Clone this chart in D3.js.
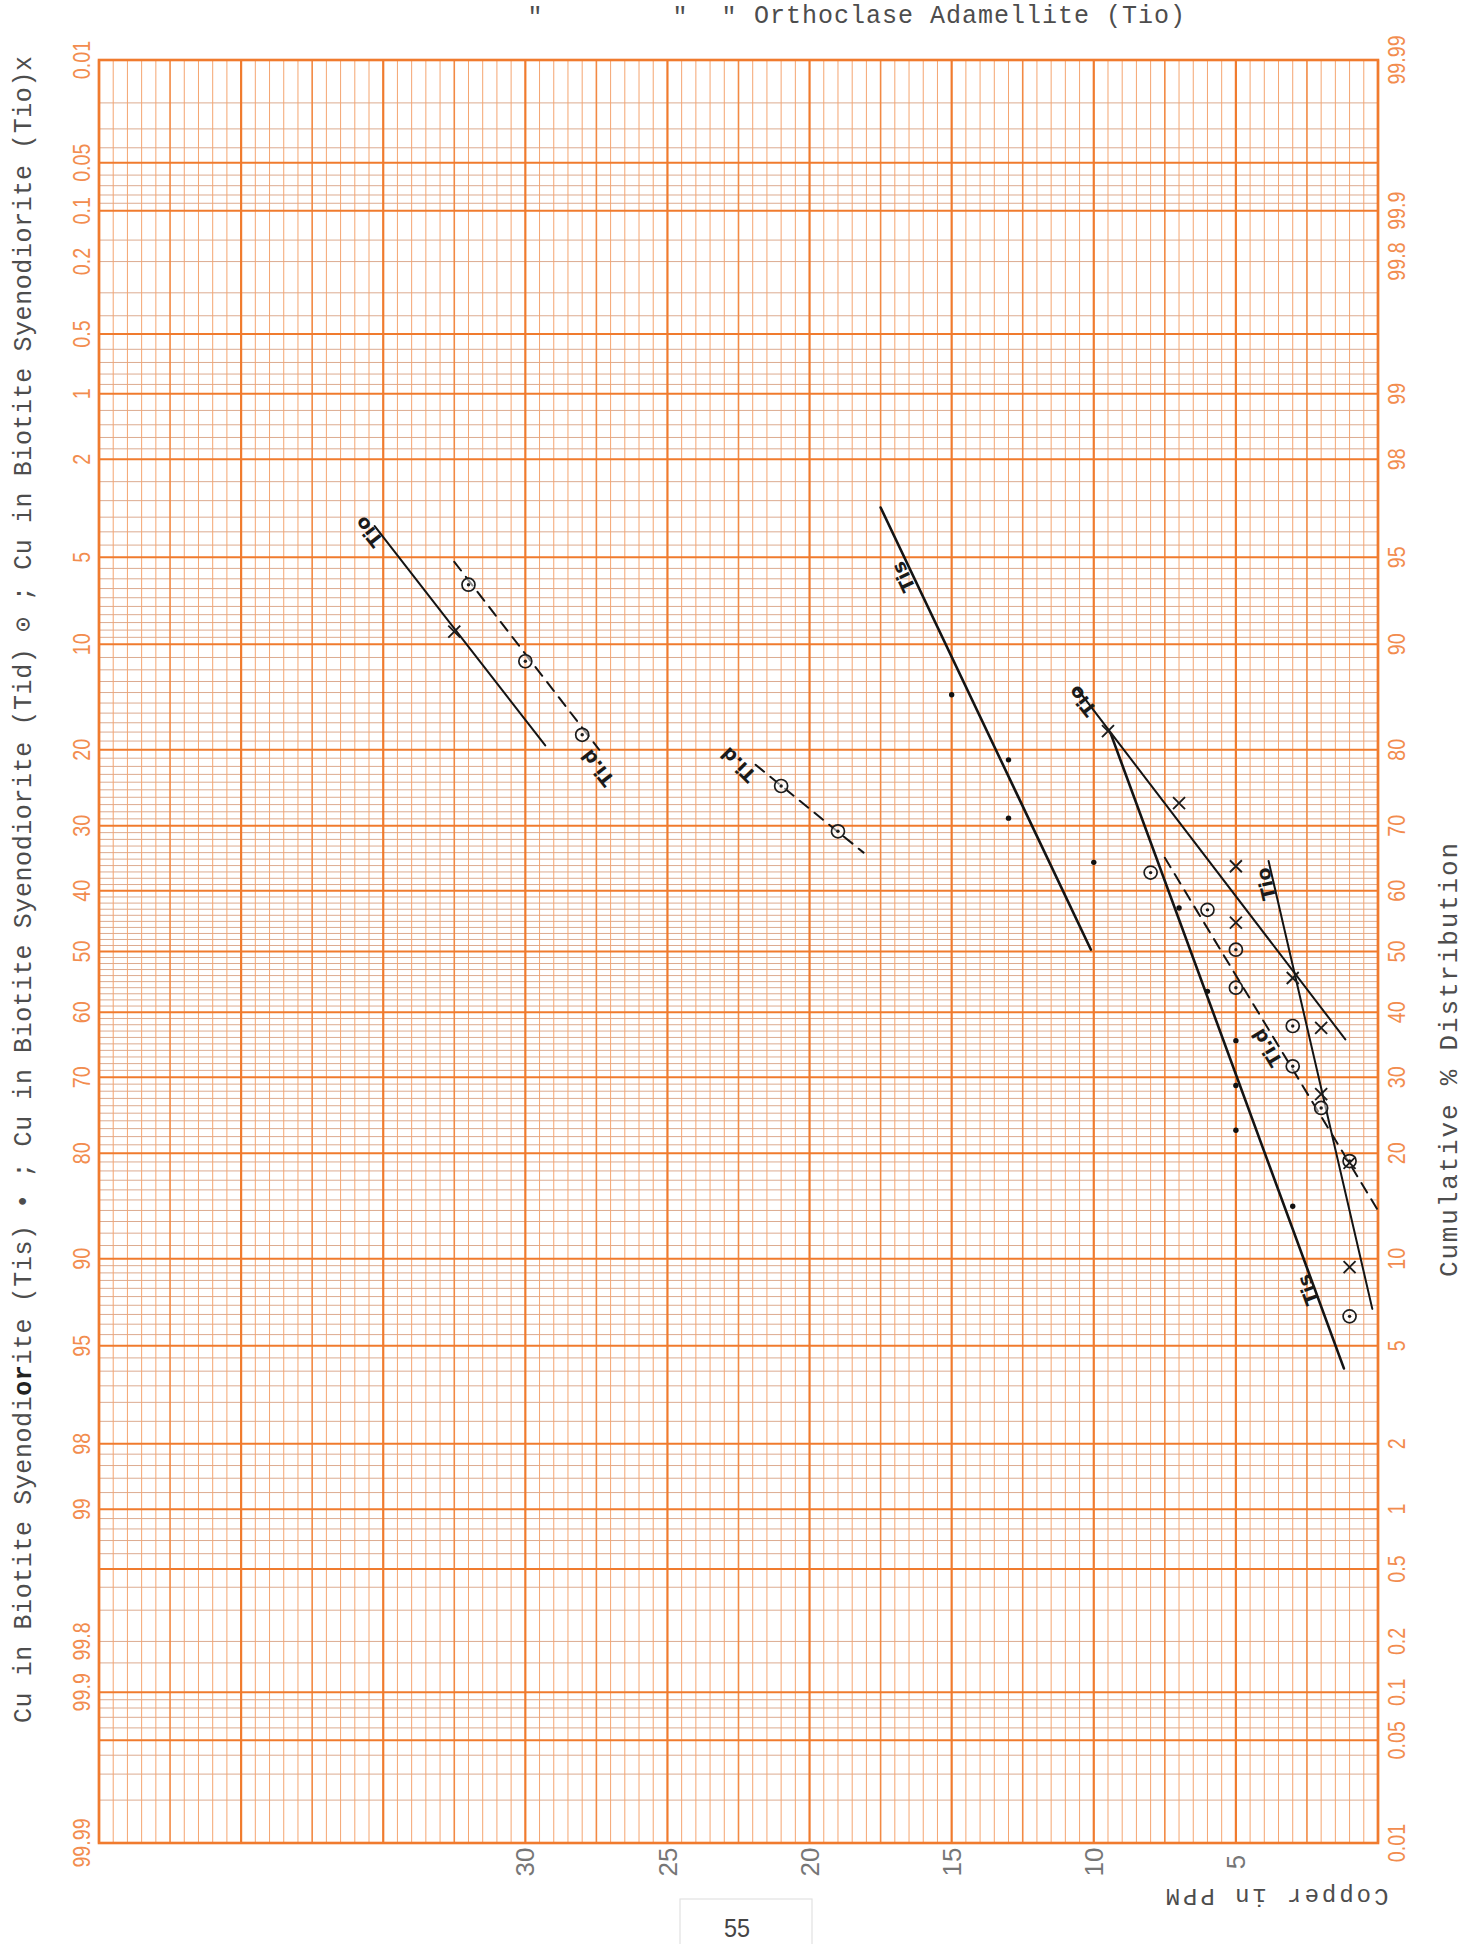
<!DOCTYPE html>
<html>
<head>
<meta charset="utf-8">
<script src="https://cdn.jsdelivr.net/npm/d3@7"></script>
<style>
  body { margin: 0; background: #fff; }
  svg { display: block; }
</style>
</head>
<body>
<svg id="chart" width="1470" height="1944"></svg>
<script>
// ---------------- data ----------------
// probability labels (same set printed on both sides of the paper)
const percentLabels = [0.01, 0.05, 0.1, 0.2, 0.5, 1, 2, 5, 10, 20, 30, 40, 50, 60, 70, 80, 90, 95, 98, 99, 99.8, 99.9, 99.99];
// copper axis labels (ppm)
const ppmLabels = [5, 10, 15, 20, 25, 30];

// Tis — Biotite Syenodiorite (dots)
const tisPpm = [15, 13, 13, 10, 7, 6, 5, 5, 5, 3];
const tisCum = [85.8, 78.8, 71.1, 64.5, 57.2, 43.4, 35.5, 28.8, 22.8, 14.4];

// Tid — Biotite Syenodiorite (circled dots)
const tidPpm = [32, 30, 28, 21, 19, 8, 6, 5, 5, 3, 3, 2, 1, 1];
const tidCum = [93.7, 88.7, 81.7, 75.5, 69.2, 62.9, 56.9, 50.3, 44.0, 37.8, 31.6, 25.7, 19.1, 6.4];

// Tio — Orthoclase Adamellite (crosses)
const tioPpm = [32.5, 9.5, 7, 5, 5, 3, 2, 2, 1, 1];
const tioCum = [90.9, 82.1, 73.2, 63.9, 54.8, 45.6, 37.5, 27.6, 18.9, 9.4];

// hand-drawn fit lines: group, ppm/cum at start, ppm/cum at end
const fitGroups = ["Tio", "Tid", "Tid", "Tis", "Tio", "Tis", "Tio", "Tid"];
const fitPpm0 = [35.3, 32.5, 21.9, 17.5, 10.6, 9.4, 3.85, 7.5];
const fitCum0 = [96.2, 94.8, 78.2, 96.8, 86.4, 81.8, 64.7, 65.2];
const fitPpm1 = [29.3, 27.4, 18.1, 10.1, 1.15, 1.2, 0.2, 0.0];
const fitCum1 = [80.5, 80.0, 66.0, 50.3, 35.7, 4.1, 6.8, 14.0];

// handwritten line labels
const noteText = ["Tio", "Ti.d", "Ti.d", "Tis", "Tio", "Tio", "Ti.d", "Tis"];
const notePpm = [35.5, 27.45, 22.5, 16.7, 10.4, 3.94, 3.9, 2.46];
const noteCum = [96.0, 77.8, 78.2, 94.1, 85.2, 61.1, 34.4, 7.9];
const noteAngle = [-128, -128, -135, -115, -128, -103, -121, -110];

// ---------------- helpers ----------------
// inverse of the standard normal CDF (Acklam's rational approximation)
function probit(p) {
  const a = [-3.969683028665376e+01, 2.209460984245205e+02, -2.759285104469687e+02, 1.383577518672690e+02, -3.066479806614716e+01, 2.506628277459239e+00];
  const b = [-5.447609879822406e+01, 1.615858368580409e+02, -1.556989798598866e+02, 6.680131188771972e+01, -1.328068155288572e+01];
  const c = [-7.784894002430293e-03, -3.223964580411365e-01, -2.400758277161838e+00, -2.549732539343734e+00, 4.374664141464968e+00, 2.938163982698783e+00];
  const d = [7.784695709041462e-03, 3.224671290700398e-01, 2.445134137142996e+00, 3.754408661907416e+00];
  const pl = 0.02425, ph = 1 - pl;
  let q, r;
  if (p < pl) {
    q = Math.sqrt(-2 * Math.log(p));
    return (((((c[0]*q+c[1])*q+c[2])*q+c[3])*q+c[4])*q+c[5]) / ((((d[0]*q+d[1])*q+d[2])*q+d[3])*q+1);
  }
  if (p <= ph) {
    q = p - 0.5; r = q * q;
    return (((((a[0]*r+a[1])*r+a[2])*r+a[3])*r+a[4])*r+a[5])*q / (((((b[0]*r+b[1])*r+b[2])*r+b[3])*r+b[4])*r+1);
  }
  q = Math.sqrt(-2 * Math.log(1 - p));
  return -(((((c[0]*q+c[1])*q+c[2])*q+c[3])*q+c[4])*q+c[5]) / ((((d[0]*q+d[1])*q+d[2])*q+d[3])*q+1);
}

// ---------------- scales ----------------
const x = d3.scaleLinear().domain([45, 0]).range([99, 1378]);
const z = d3.scaleLinear().domain([probit(0.9999), probit(0.0001)]).range([60, 1843]);
const y = cum => z(probit(cum / 100));   // cumulative % (right-hand scale)

const svg = d3.select("#chart");
const ORANGE = "#f07b2e";

// ---------------- probability paper grid ----------------
const heavyLow = [0.01, 0.05, 0.1, 0.5, 1, 2, 5, 10, 20, 30, 40, 50];
const minorLow = [0.02, 0.03, 0.04, 0.06, 0.07, 0.08, 0.09, 0.15, 0.2, 0.3, 0.4, 0.6, 0.7, 0.8, 0.9,
  1.2, 1.4, 1.6, 1.8, 2.5, 3, 3.5, 4, 4.5, 5.5, 6, 6.5, 7, 7.5, 8, 8.5, 9, 9.5]
  .concat(d3.range(11, 50).filter(v => v % 10 !== 0));
const mirror = arr => Array.from(new Set(arr.concat(arr.map(v => +(100 - v).toFixed(4)))));
const heavyP = mirror(heavyLow);
const minorP = mirror(minorLow);

const grid = svg.append("g").attr("class", "grid");
const x0 = x(45), x1 = x(0), yTop = y(99.99), yBot = y(0.01);

grid.selectAll("line.hmin").data(minorP).join("line")
  .attr("class", "hmin")
  .attr("x1", x0).attr("x2", x1)
  .attr("y1", d => y(d)).attr("y2", d => y(d))
  .attr("stroke", "#dcab90").attr("stroke-width", 1);

const ppmGrid = d3.range(0, 45.01, 0.5);
grid.selectAll("line.v").data(ppmGrid).join("line")
  .attr("class", "v")
  .attr("x1", d => x(d)).attr("x2", d => x(d))
  .attr("y1", yTop).attr("y2", yBot)
  .attr("stroke", d => d % 5 === 0 ? ORANGE : (d % 2.5 === 0 ? "#f28a44" : "#f4a571"))
  .attr("stroke-width", d => d % 5 === 0 ? 2.2 : (d % 2.5 === 0 ? 1.6 : 1));

grid.selectAll("line.hmaj").data(heavyP).join("line")
  .attr("class", "hmaj")
  .attr("x1", x0).attr("x2", x1)
  .attr("y1", d => y(d)).attr("y2", d => y(d))
  .attr("stroke", ORANGE).attr("stroke-width", 2);

grid.append("rect")
  .attr("x", x0).attr("y", yTop)
  .attr("width", x1 - x0).attr("height", yBot - yTop)
  .attr("fill", "none").attr("stroke", ORANGE).attr("stroke-width", 2.6);

// ---------------- printed scale labels ----------------
const labelFont = "'Liberation Sans', Arial, sans-serif";
// left side: percentage increasing downward
svg.append("g").selectAll("text").data(percentLabels).join("text")
  .attr("transform", d => `translate(82,${y(100 - d)}) rotate(-90) scale(0.82,1)`)
  .attr("dy", "0.35em")
  .attr("text-anchor", "middle")
  .attr("font-family", labelFont).attr("font-size", 24)
  .attr("fill", "#f28c4e")
  .text(d => d);
// right side: cumulative percentage
svg.append("g").selectAll("text").data(percentLabels).join("text")
  .attr("transform", d => `translate(1397,${y(d)}) rotate(-90) scale(0.82,1)`)
  .attr("dy", "0.35em")
  .attr("text-anchor", "middle")
  .attr("font-family", labelFont).attr("font-size", 24)
  .attr("fill", "#f28c4e")
  .text(d => d);
// copper axis
svg.append("g").selectAll("text").data(ppmLabels).join("text")
  .attr("transform", d => `translate(${x(d)},1862) rotate(-90)`)
  .attr("dy", "0.35em")
  .attr("text-anchor", "middle")
  .attr("font-family", labelFont).attr("font-size", 26)
  .attr("fill", "#767676")
  .text(d => d);

// ---------------- fitted lines ----------------
const fits = fitGroups.map((g, i) => ({ g, p0: fitPpm0[i], c0: fitCum0[i], p1: fitPpm1[i], c1: fitCum1[i] }));
svg.append("g").selectAll("line").data(fits).join("line")
  .attr("x1", d => x(d.p0)).attr("y1", d => y(d.c0))
  .attr("x2", d => x(d.p1)).attr("y2", d => y(d.c1))
  .attr("stroke", "#141414")
  .attr("stroke-width", d => d.g === "Tis" ? 2.6 : 2)
  .attr("stroke-dasharray", d => d.g === "Tid" ? "11,8" : null)
  .attr("stroke-linecap", "round");

// ---------------- points ----------------
const tis = tisPpm.map((p, i) => ({ p, c: tisCum[i] }));
const tid = tidPpm.map((p, i) => ({ p, c: tidCum[i] }));
const tio = tioPpm.map((p, i) => ({ p, c: tioCum[i] }));

svg.append("g").selectAll("circle").data(tis).join("circle")
  .attr("cx", d => x(d.p)).attr("cy", d => y(d.c))
  .attr("r", 2.7).attr("fill", "#111");

const tidG = svg.append("g").selectAll("g").data(tid).join("g")
  .attr("transform", d => `translate(${x(d.p)},${y(d.c)})`);
tidG.append("circle").attr("r", 6.5).attr("fill", "#fff").attr("fill-opacity", 0.5)
  .attr("stroke", "#1c1c1c").attr("stroke-width", 1.7);
tidG.append("circle").attr("r", 1.7).attr("fill", "#1c1c1c");

svg.append("g").selectAll("path").data(tio).join("path")
  .attr("transform", d => `translate(${x(d.p)},${y(d.c)})`)
  .attr("d", "M-6,-6L6,6M-6,6L6,-6")
  .attr("stroke", "#1c1c1c").attr("stroke-width", 1.9).attr("fill", "none");

// ---------------- handwritten labels ----------------
const notes = noteText.map((t, i) => ({ t, p: notePpm[i], c: noteCum[i], a: noteAngle[i] }));
svg.append("g").selectAll("text").data(notes).join("text")
  .attr("transform", d => `translate(${x(d.p)},${y(d.c)}) rotate(${d.a})`)
  .attr("dy", "0.35em")
  .attr("text-anchor", "middle")
  .attr("font-family", "'DejaVu Sans', sans-serif")
  .attr("font-size", 19).attr("font-weight", 600)
  .attr("fill", "#1a1a1a")
  .text(d => d.t);

// ---------------- typed titles ----------------
const mono = "'Liberation Mono', 'DejaVu Sans Mono', monospace";
const title = svg.append("text")
  .attr("transform", "translate(31,1723) rotate(-90)")
  .attr("font-family", mono).attr("font-size", 25)
  .attr("fill", "#4d4d4d")
  .attr("textLength", 1667).attr("lengthAdjust", "spacing");
title.append("tspan").text("Cu in Biotite Syenodi");
title.append("tspan").attr("font-weight", "bold").attr("fill", "#222").text("or");
title.append("tspan").text("ite (Tis) \u2022 ; Cu in Biotite Syenodiorite (Tid) \u2299 ; Cu in Biotite Syenodiorite (Tio)x");

const header = svg.append("g")
  .attr("font-family", mono).attr("font-size", 25).attr("fill", "#4d4d4d");
header.append("text").attr("x", 535).attr("y", 25).attr("text-anchor", "middle").text("\"");
header.append("text").attr("x", 680).attr("y", 25).attr("text-anchor", "middle").text("\"");
header.append("text").attr("x", 729).attr("y", 25).attr("text-anchor", "middle").text("\"");
header.append("text").attr("x", 754).attr("y", 23)
  .attr("textLength", 431).attr("lengthAdjust", "spacing")
  .text("Orthoclase Adamellite (Tio)");

svg.append("text")
  .attr("transform", "translate(1457,1277) rotate(-90)")
  .attr("font-family", mono).attr("font-size", 26).attr("fill", "#4d4d4d")
  .attr("textLength", 434).attr("lengthAdjust", "spacing")
  .text("Cumulative % Distribution");

svg.append("text")
  .attr("transform", "translate(1277,1889) rotate(180)")
  .attr("text-anchor", "middle")
  .attr("font-family", mono).attr("font-size", 24).attr("fill", "#4d4d4d")
  .attr("textLength", 223).attr("lengthAdjust", "spacing")
  .text("Copper in PPM");

// page number
svg.append("rect")
  .attr("x", 680).attr("y", 1899).attr("width", 132).attr("height", 60)
  .attr("fill", "none").attr("stroke", "#e2e2e2").attr("stroke-width", 1.2);
svg.append("text")
  .attr("x", 737).attr("y", 1937).attr("text-anchor", "middle")
  .attr("font-family", labelFont).attr("font-size", 26).attr("fill", "#444")
  .attr("transform", "translate(737,0) scale(0.9,1) translate(-737,0)")
  .text("55");
</script>
</body>
</html>
